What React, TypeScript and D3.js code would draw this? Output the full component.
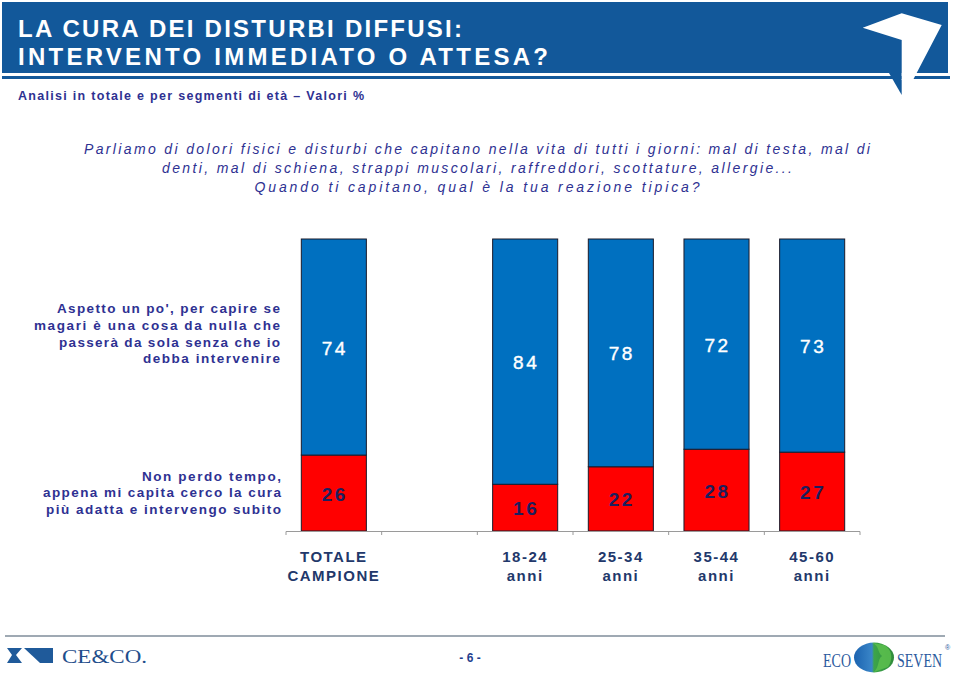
import React from "react";
import * as d3 from "d3";

const slots = ["TOTALE", "GAP", "18-24", "25-34", "35-44", "45-60"];
const categories = ["TOTALE", "18-24", "25-34", "35-44", "45-60"];
const labelLine1 = ["TOTALE", "18-24", "25-34", "35-44", "45-60"];
const labelLine2 = ["CAMPIONE", "anni", "anni", "anni", "anni"];
const subito = [26, 16, 22, 28, 27];
const aspetto = [74, 84, 78, 72, 73];

const seriesKeys = ["subito", "aspetto"];
const seriesColors = ["#FF0000", "#0070C0"];
const seriesTextColors = ["#1c1f5e", "#ffffff"];

const titleLines = ["LA CURA DEI DISTURBI DIFFUSI:", "INTERVENTO IMMEDIATO O ATTESA?"];
const subtitle = "Analisi in totale e per segmenti di età  \u2013 Valori %";
const questionLines = [
  "Parliamo di dolori fisici e disturbi che capitano nella vita di tutti i giorni: mal di testa, mal di",
  "denti, mal di schiena, strappi muscolari, raffreddori, scottature, allergie...",
  "Quando ti capitano, qual è la tua reazione tipica?",
];
const questionWidths = [786, 630, 445];
const aspettoLabel = [
  "Aspetto un po', per capire se",
  "magari è  una cosa da nulla che",
  "passerà da sola senza che io",
  "debba intervenire",
];
const aspettoWidths = [223, 246, 221, 137];
const subitoLabel = [
  "Non perdo tempo,",
  "appena mi capita cerco la cura",
  "più adatta e intervengo subito",
];
const subitoWidths = [139, 238, 235];

export default function App() {
  const x = d3
    .scaleBand<string>()
    .domain(slots)
    .range([286, 860])
    .paddingInner(0.32)
    .paddingOuter(0.16);
  const y = d3.scaleLinear().domain([0, 100]).range([531, 239]);
  const step = x.step();
  const rows = categories.map((c, i) => ({ cat: c, subito: subito[i], aspetto: aspetto[i] }));
  const stacked = d3.stack<any>().keys(seriesKeys)(rows);
  const boundaries = d3.range(slots.length + 1).map((i) => 286 + i * step);

  const navy = "#2e3192";
  const band = "#12589a";

  return (
    <svg
      width={960}
      height={682}
      style={{ position: "absolute", left: 0, top: 0, background: "#fff" }}
      fontFamily="'Liberation Sans', Arial, sans-serif"
    >
      {/* header band */}
      <rect x={2} y={2} width={946} height={71} fill={band} />
      <rect x={2} y={76} width={948} height={3} fill={band} />
      <polygon points="889,73 901.7,73 901.7,95" fill={band} />
      <polygon points="862.7,27.7 901.7,13.3 941.7,25 913,80 901.7,80 901.7,40" fill="#ffffff" />
      {titleLines.map((t, i) => (
        <text
          key={i}
          x={18}
          y={36.7 + i * 28.5}
          fill="#ffffff"
          fontSize={24}
          fontWeight="bold"
          textLength={i === 0 ? 444 : 530}
          lengthAdjust="spacing"
        >
          {t}
        </text>
      ))}
      <text x={18} y={100} fill={navy} fontSize={12.5} fontWeight="bold" textLength={346} lengthAdjust="spacing">
        {subtitle}
      </text>

      {/* question */}
      {questionLines.map((t, i) => (
        <text
          key={i}
          x={477}
          y={153.5 + i * 19}
          textAnchor="middle"
          fill={navy}
          fontSize={14}
          fontStyle="italic"
          textLength={questionWidths[i]}
          lengthAdjust="spacing"
        >
          {t}
        </text>
      ))}

      {/* series labels */}
      {aspettoLabel.map((t, i) => (
        <text key={i} x={280} y={313.3 + i * 16.7} textAnchor="end" fill={navy} fontSize={13.5} fontWeight="bold"
          textLength={aspettoWidths[i]} lengthAdjust="spacing">
          {t}
        </text>
      ))}
      {subitoLabel.map((t, i) => (
        <text key={i} x={281} y={480.7 + i * 16.7} textAnchor="end" fill={navy} fontSize={13.5} fontWeight="bold"
          textLength={subitoWidths[i]} lengthAdjust="spacing">
          {t}
        </text>
      ))}

      {/* bars */}
      {stacked.map((s, si) => (
        <g key={s.key}>
          {s.map((d, i) => {
            const cx = x(categories[i])!;
            const y0 = y(d[1]);
            const y1 = y(d[0]);
            return (
              <g key={i}>
                <rect x={cx} y={y0} width={x.bandwidth()} height={y1 - y0} fill={seriesColors[si]} stroke="#1a1a2a" strokeWidth={1} />
                <text
                  x={cx + x.bandwidth() / 2 + 1}
                  y={(y0 + y1) / 2 + 7.5}
                  textAnchor="middle"
                  fill={seriesTextColors[si]}
                  fontSize={19}
                  fontWeight={si === 0 ? "bold" : "normal"}
                  letterSpacing={2.5}
                  stroke={si === 1 ? "#ffffff" : "none"}
                  strokeWidth={si === 1 ? 0.4 : 0}
                >
                  {si === 0 ? subito[i] : aspetto[i]}
                </text>
              </g>
            );
          })}
        </g>
      ))}

      {/* axis */}
      <line x1={286} x2={860} y1={531.5} y2={531.5} stroke="#9a9a9a" strokeWidth={1} />
      {boundaries.map((b, i) => (
        <line key={i} x1={b} x2={b} y1={531.5} y2={535} stroke="#9a9a9a" strokeWidth={1} />
      ))}
      {categories.map((c, i) => (
        <g key={c}>
          <text x={x(c)! + x.bandwidth() / 2} y={562} textAnchor="middle" fill="#22386b" fontSize={15} fontWeight="bold" letterSpacing={1.5}>
            {labelLine1[i]}
          </text>
          <text x={x(c)! + x.bandwidth() / 2} y={581} textAnchor="middle" fill="#22386b" fontSize={15} fontWeight="bold" letterSpacing={1.5}>
            {labelLine2[i]}
          </text>
        </g>
      ))}

      {/* footer */}
      <line x1={5} x2={945} y1={636} y2={636} stroke="#7f8c9a" strokeWidth={1.5} />
      <polygon points="7,648 22,648 16,655 22,663 7,663 12,655" fill="#1f5a9a" />
      <polygon points="24,648 53,648 53,663 40,663" fill="#1f5a9a" />
      <text x={62} y={663} fill="#1f4e8c" fontSize={19} fontFamily="'Liberation Serif', serif" textLength={85} lengthAdjust="spacingAndGlyphs">
        CE&amp;CO.
      </text>
      <text x={470} y={662} textAnchor="middle" fill="#1f3f8f" fontSize={12} fontWeight="bold">
        - 6 -
      </text>
      <text x={823} y={667} fill="#2b5a9e" fontSize={18} fontFamily="'Liberation Serif', serif" textLength={28} lengthAdjust="spacingAndGlyphs">
        ECO
      </text>
      <defs>
        <linearGradient id="globe" x1="0" x2="1" y1="0" y2="0">
          <stop offset="0" stopColor="#1b63b0" />
          <stop offset="0.45" stopColor="#3a86c8" />
          <stop offset="0.5" stopColor="#3da54a" />
          <stop offset="1" stopColor="#2f8a3a" />
        </linearGradient>
      </defs>
      <ellipse cx={874} cy={657.5} rx={20} ry={15} fill="url(#globe)" />
      <path d="M872,643 C880,646 877,652 882,656 C877,660 880,666 874,672 L888,667 C893,660 893,650 884,645 Z" fill="#5cc04e" opacity={0.85} />
      <text x={897} y={667} fill="#2b5a9e" fontSize={18} fontFamily="'Liberation Serif', serif" textLength={45} lengthAdjust="spacingAndGlyphs">
        SEVEN
      </text>
      <text x={945} y={650} fill="#2b5a9e" fontSize={7}>
        ®
      </text>
    </svg>
  );
}
